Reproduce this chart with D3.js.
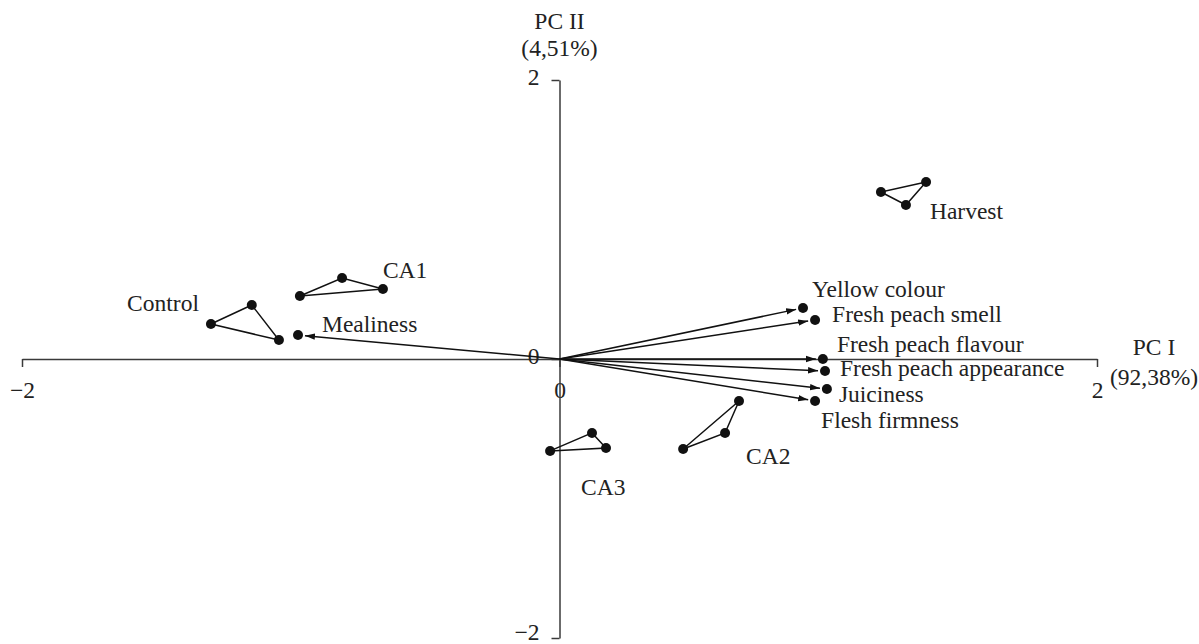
<!DOCTYPE html>
<html lang="en">
<head>
<meta charset="UTF-8">
<title>PCA biplot</title>
<script src="https://d3js.org/d3.v7.min.js"></script>
<style>
  body { margin: 0; background: #fff; }
  text { font-family: "Liberation Serif", "Times New Roman", serif; font-size: 23.5px; fill: #222; }
  .axis path, .axis line { stroke: #3a3a3a; stroke-width: 1.5; }
</style>
</head>
<body>
<svg id="chart" width="1199" height="644"></svg>
<script>
  // sample scores (PC I, PC II), three replicates per storage treatment
  const groupNames = ["Harvest", "CA1", "Control", "CA2", "CA3"];
  const harvest = [[1.196, 1.197], [1.289, 1.104], [1.364, 1.269]];
  const ca1     = [[-0.966, 0.452], [-0.809, 0.581], [-0.657, 0.502]];
  const control = [[-1.297, 0.251], [-1.145, 0.387], [-1.044, 0.136]];
  const ca2     = [[0.668, -0.301], [0.616, -0.530], [0.460, -0.645]];
  const ca3     = [[-0.035, -0.659], [0.121, -0.530], [0.173, -0.638]];

  // attribute loadings
  const attributes = ["Yellow colour", "Fresh peach smell", "Fresh peach flavour",
                      "Fresh peach appearance", "Juiciness", "Flesh firmness", "Mealiness"];
  const loadX = [0.906, 0.951, 0.980, 0.988, 0.995, 0.951, -0.973];
  const loadY = [0.366, 0.280, 0.000, -0.086, -0.215, -0.301, 0.172];

  const xTicks = [-2, 0, 2];
  const yTicks = [-2, 0, 2];

  // label offsets in px (which replicate to hang the label on, dx, dy, anchor)
  const groupLabelPos = [[1, 24, 14, "start"], [2, 0, -11, "start"], [0, -12, -13, "end"],
                         [1, 21, 31, "start"], [0, 31, 44, "start"]];
  const attrLabelPos = [[9, -11], [17, 2], [14, -7], [15, 5], [12, 13], [6, 27], [24, -3]];

  const svg = d3.select("#chart");
  const x = d3.scaleLinear().domain([-2, 2]).range([22, 1097]);
  const y = d3.scaleLinear().domain([-2, 2]).range([638, 80]);

  // marker for loading arrows
  svg.append("defs").append("marker")
    .attr("id", "arrow")
    .attr("markerUnits", "userSpaceOnUse")
    .attr("viewBox", "0 -4 10 8")
    .attr("refX", 10).attr("refY", 0)
    .attr("markerWidth", 10).attr("markerHeight", 8)
    .attr("orient", "auto")
    .append("path")
    .attr("d", "M0,-3.2L10,0L0,3.2Z")
    .attr("fill", "#111");

  // axes through origin
  const fmt = d => d < 0 ? "\u2212" + Math.abs(d) : d;
  const xAxis = svg.append("g").attr("class", "axis")
    .attr("transform", `translate(0,${y(0)})`)
    .call(d3.axisBottom(x).tickValues(xTicks).tickSizeInner(8).tickSizeOuter(0)
      .tickPadding(14).tickFormat(fmt));
  const yAxis = svg.append("g").attr("class", "axis")
    .attr("transform", `translate(${x(0)},0)`)
    .call(d3.axisLeft(y).tickValues(yTicks).tickSizeInner(8).tickSizeOuter(0)
      .tickPadding(12).tickFormat(fmt));
  svg.selectAll(".axis text").attr("font-size", null).attr("font-family", null).attr("fill", "#222");
  yAxis.selectAll("text").attr("dy", d => d === -2 ? "0.05em" : "0.2em");
  xAxis.selectAll("text").attr("dy", "0.71em");

  // axis titles
  svg.append("text").attr("x", x(0)).attr("y", 29).attr("text-anchor", "middle").text("PC II");
  svg.append("text").attr("x", x(0)).attr("y", 56).attr("text-anchor", "middle").text("(4,51%)");
  svg.append("text").attr("x", 1154).attr("y", 355).attr("text-anchor", "middle").text("PC I");
  svg.append("text").attr("x", 1154).attr("y", 385).attr("text-anchor", "middle").text("(92,38%)");

  // loading arrows
  const r = 5;
  attributes.forEach((name, i) => {
    const x0 = x(0), y0 = y(0);
    const x1 = x(loadX[i]), y1 = y(loadY[i]);
    const len = Math.hypot(x1 - x0, y1 - y0);
    const k = (len - r - 2) / len;
    svg.append("line")
      .attr("x1", x0).attr("y1", y0)
      .attr("x2", x0 + (x1 - x0) * k).attr("y2", y0 + (y1 - y0) * k)
      .attr("stroke", "#111").attr("stroke-width", 1.5)
      .attr("marker-end", "url(#arrow)");
    svg.append("circle").attr("cx", x1).attr("cy", y1).attr("r", r).attr("fill", "#111");
    svg.append("text")
      .attr("x", x1 + attrLabelPos[i][0]).attr("y", y1 + attrLabelPos[i][1])
      .text(name);
  });

  // sample triangles
  const groups = [harvest, ca1, control, ca2, ca3];
  const line = d3.line().x(d => x(d[0])).y(d => y(d[1])).curve(d3.curveLinearClosed);
  groups.forEach((pts, g) => {
    svg.append("path").attr("d", line(pts))
      .attr("fill", "none").attr("stroke", "#111").attr("stroke-width", 1.5);
    svg.selectAll(null).data(pts).enter().append("circle")
      .attr("cx", d => x(d[0])).attr("cy", d => y(d[1])).attr("r", r).attr("fill", "#111");
    const lp = groupLabelPos[g];
    const anchor = pts[lp[0]];
    svg.append("text")
      .attr("x", x(anchor[0]) + lp[1]).attr("y", y(anchor[1]) + lp[2])
      .attr("text-anchor", lp[3])
      .text(groupNames[g]);
  });
</script>
</body>
</html>
